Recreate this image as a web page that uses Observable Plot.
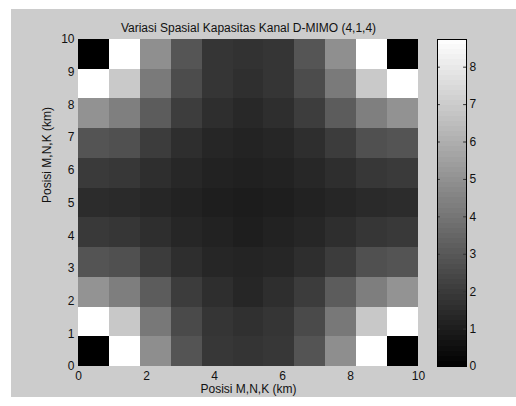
<!DOCTYPE html>
<html><head><meta charset="utf-8">
<script src="https://cdn.jsdelivr.net/npm/d3@7"></script>
<script src="https://cdn.jsdelivr.net/npm/@observablehq/plot@0.6"></script>
<style>
body{margin:0;background:#fff;}
#wrap{position:relative;width:516px;height:406px;background:#fff;overflow:hidden}
#bg{position:absolute;left:11px;top:9px;width:505px;height:388px;background:#cccccc}
#wrap svg{position:absolute;left:0;top:0}
</style></head><body><div id="wrap"><div id="bg"></div></div>
<script>
const title = "Variasi Spasial Kapasitas Kanal D-MIMO (4,1,4)";
const xLabel = "Posisi M,N,K (km)";
const yLabel = "Posisi M,N,K (km)";
const xTicks = [0, 2, 4, 6, 8, 10];
const yTicks = [0, 1, 2, 3, 4, 5, 6, 7, 8, 9, 10];
const cbTicks = [0, 1, 2, 3, 4, 5, 6, 7, 8];
const cMin = 0, cMax = 8.74;
const nCols = 11, extent = 10;

// grid values, listed from the top row (y≈10) to the bottom row (y≈0)
const row10 = [0.00, 8.74, 4.90, 2.91, 1.82, 1.71, 1.82, 2.91, 4.90, 8.74, 0.00];
const row9  = [8.74, 6.89, 4.18, 2.60, 1.82, 1.61, 1.82, 2.60, 4.18, 6.89, 8.74];
const row8  = [5.01, 4.35, 3.15, 2.09, 1.58, 1.37, 1.58, 2.09, 3.15, 4.35, 5.01];
const row7  = [2.88, 2.74, 2.06, 1.58, 1.30, 1.20, 1.30, 1.58, 2.06, 2.74, 2.88];
const row6  = [1.99, 1.89, 1.58, 1.34, 1.17, 1.10, 1.17, 1.34, 1.58, 1.89, 1.99];
const row5  = [1.51, 1.44, 1.30, 1.17, 1.03, 0.96, 1.03, 1.17, 1.30, 1.44, 1.51];
const row4  = [1.96, 1.85, 1.58, 1.30, 1.17, 1.03, 1.17, 1.30, 1.58, 1.85, 1.96];
const row3  = [2.88, 2.74, 2.06, 1.58, 1.30, 1.23, 1.30, 1.58, 2.06, 2.74, 2.88];
const row2  = [5.04, 4.32, 3.15, 2.06, 1.58, 1.30, 1.58, 2.06, 3.15, 4.32, 5.04];
const row1  = [8.74, 6.86, 4.11, 2.54, 1.82, 1.65, 1.82, 2.54, 4.11, 6.86, 8.74];
const row0  = [0.00, 8.74, 4.87, 2.88, 1.89, 1.78, 1.89, 2.88, 4.87, 8.74, 0.00];
const rowsTopDown = [row10, row9, row8, row7, row6, row5, row4, row3, row2, row1, row0];

const step = extent / nCols;
const cells = [];
rowsTopDown.forEach((row, r) => {
  const j = rowsTopDown.length - 1 - r;
  row.forEach((v, i) => cells.push({x1: i * step, x2: (i + 1) * step, y1: j * step, y2: (j + 1) * step, v}));
});

const colorScale = {type: "linear", domain: [cMin, cMax], range: ["#000000", "#ffffff"], interpolate: "rgb", clamp: true};
const font = {fontFamily: "'Liberation Sans', Arial, sans-serif", fontSize: "12px", color: "#111", background: "transparent", overflow: "visible"};

const main = Plot.plot({
  width: 516, height: 406,
  marginLeft: 78, marginRight: 98, marginTop: 39, marginBottom: 40,
  style: font,
  x: {domain: [0, extent], ticks: xTicks, tickSize: 0, tickPadding: 5, label: null},
  y: {domain: [0, extent], ticks: yTicks, tickSize: 0, tickPadding: 4, label: null},
  color: colorScale,
  marks: [
    Plot.rect(cells, {x1: "x1", x2: "x2", y1: "y1", y2: "y2", fill: "v", shapeRendering: "crispEdges"}),
    Plot.text([title], {text: d => d, frameAnchor: "top", dy: -11, lineAnchor: "middle", fontSize: 12}),
    Plot.text([xLabel], {text: d => d, frameAnchor: "bottom", dy: 23, lineAnchor: "middle", fontSize: 12}),
    Plot.text([yLabel], {text: d => d, frameAnchor: "left", dx: -31, rotate: -90, lineAnchor: "middle", fontSize: 12})
  ]
});

const levels = d3.range(64).map(k => ({a: cMin + (cMax - cMin) * k / 64, b: cMin + (cMax - cMin) * (k + 1) / 64}));
const cb = Plot.plot({
  width: 516, height: 406,
  marginLeft: 437, marginRight: 50, marginTop: 39, marginBottom: 40,
  style: font,
  x: {domain: [0, 1], axis: null},
  y: {domain: [cMin, cMax], axis: null},
  color: colorScale,
  marks: [
    Plot.rect(levels, {x1: 0, x2: 1, y1: "a", y2: "b", fill: d => (d.a + d.b) / 2, shapeRendering: "crispEdges"}),
    Plot.ruleY(cbTicks, {x1: 0, x2: 0.1, stroke: "#333"}),
    Plot.ruleY(cbTicks, {x1: 0.9, x2: 1, stroke: "#333"}),
    Plot.frame({stroke: "#000"}),
    Plot.text(cbTicks, {x: 1, y: d => d, text: d => String(d), textAnchor: "start", dx: 3, fontSize: 12})
  ]
});

const wrap = document.getElementById("wrap");
wrap.appendChild(main);
wrap.appendChild(cb);
</script>
</body></html>
